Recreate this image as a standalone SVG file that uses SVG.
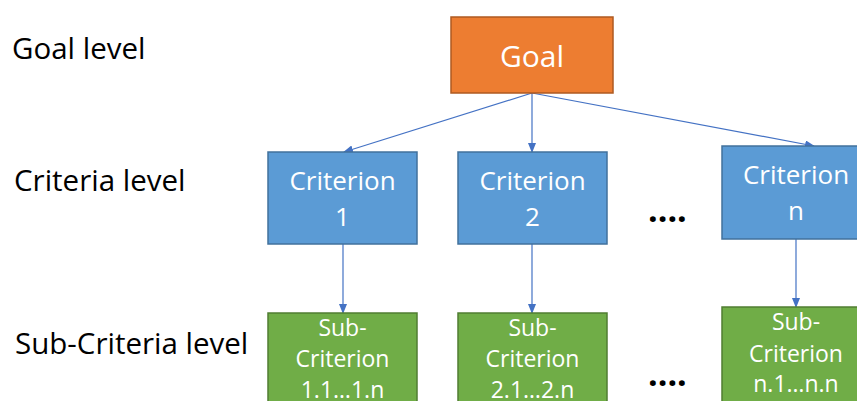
<svg xmlns="http://www.w3.org/2000/svg" width="857" height="401" viewBox="0 0 857 401">
<defs>
<marker id="ah" markerWidth="10" markerHeight="8" refX="9" refY="4" orient="auto" markerUnits="userSpaceOnUse">
<path d="M0,0 L10,4 L0,8 Z" fill="#4472C4"/>
</marker>
<style>
.lbl{font-family:"Open Sans","Liberation Sans",sans-serif;fill:#000;font-size:29.5px}
.wt{font-family:"Open Sans","Liberation Sans",sans-serif;fill:#fff;text-anchor:middle}
.goal{fill:#ED7D31;stroke:#AE5A21;stroke-width:1.5}
.crit{fill:#5B9BD5;stroke:#41719C;stroke-width:1.5}
.sub{fill:#70AD47;stroke:#507E32;stroke-width:1.5}
.con{stroke:#4472C4;stroke-width:1.2;fill:none;marker-end:url(#ah)}
.dots{font-family:"Open Sans","Liberation Sans",sans-serif;fill:#000;font-size:34px;font-weight:bold;letter-spacing:0px}
</style>
</defs>
<rect width="857" height="401" fill="#fff"/>
<g id="labels">
<text class="lbl" x="12" y="59">Goal level</text>
<text class="lbl" x="14" y="191">Criteria level</text>
<text class="lbl" x="15" y="354">Sub-Criteria level</text>
</g>
<g id="connectors">
<line class="con" x1="532" y1="93" x2="344" y2="152"/>
<line class="con" x1="532" y1="93" x2="532" y2="152"/>
<line class="con" x1="532" y1="93" x2="814" y2="146"/>
<line class="con" x1="343" y1="244" x2="343" y2="313"/>
<line class="con" x1="532" y1="244" x2="532" y2="313"/>
<line class="con" x1="796" y1="239" x2="796" y2="307"/>
</g>
<g id="goal">
<rect class="goal" x="451" y="17" width="162" height="76"/>
<text class="wt" x="532" y="67" font-size="30">Goal</text>
</g>
<g id="criterion1">
<rect class="crit" x="268" y="152" width="149" height="92"/>
<text class="wt" x="342.5" y="190" font-size="26">Criterion</text>
<text class="wt" x="342.5" y="226" font-size="26">1</text>
</g>
<g id="criterion2">
<rect class="crit" x="458" y="152" width="149" height="92"/>
<text class="wt" x="532.5" y="190" font-size="26">Criterion</text>
<text class="wt" x="532.5" y="226" font-size="26">2</text>
</g>
<g id="criterionN">
<rect class="crit" x="722" y="146" width="149" height="93"/>
<text class="wt" x="796" y="184" font-size="26">Criterion</text>
<text class="wt" x="796" y="220" font-size="26">n</text>
</g>
<g id="sub1">
<rect class="sub" x="268" y="313" width="149" height="100"/>
<text class="wt" x="342.5" y="336" font-size="23">Sub-</text>
<text class="wt" x="342.5" y="367" font-size="23">Criterion</text>
<text class="wt" x="342.5" y="398" font-size="23">1.1…1.n</text>
</g>
<g id="sub2">
<rect class="sub" x="458" y="313" width="149" height="100"/>
<text class="wt" x="532.5" y="336" font-size="23">Sub-</text>
<text class="wt" x="532.5" y="367" font-size="23">Criterion</text>
<text class="wt" x="532.5" y="398" font-size="23">2.1…2.n</text>
</g>
<g id="subN">
<rect class="sub" x="722" y="307" width="149" height="100"/>
<text class="wt" x="796" y="330" font-size="23">Sub-</text>
<text class="wt" x="796" y="362" font-size="23">Criterion</text>
<text class="wt" x="796" y="392" font-size="23">n.1…n.n</text>
</g>
<g id="ellipses">
<text class="dots" x="648" y="222">....</text>
<text class="dots" x="648" y="386">....</text>
</g>
</svg>
